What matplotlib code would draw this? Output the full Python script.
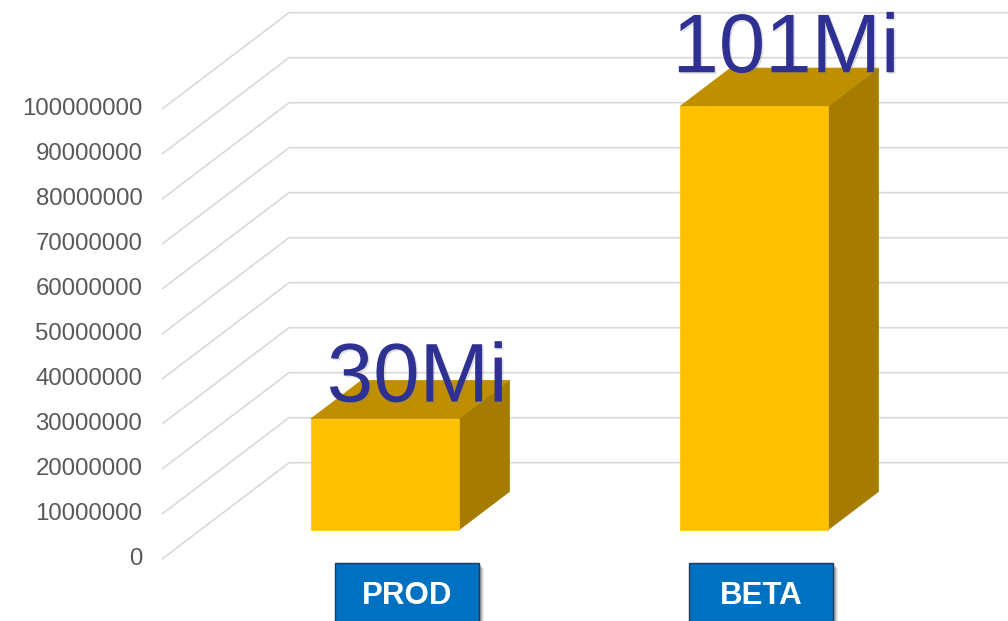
import numpy as np
import matplotlib
matplotlib.use("Agg")
import matplotlib.pyplot as plt
from matplotlib.patches import Polygon, Rectangle
import matplotlib.patheffects as pe

# chart data
categories = ["PROD", "BETA"]
values = [24.7e6, 94.1e6]
value_labels = ["30Mi", "101Mi"]
tick_values = list(range(0, 100_000_001, 10_000_000))

# layout (pixels of a 1008x621 canvas)
W, H = 1008, 621
PX_PER_CAT = 369.0
PX_PER_VAL = 45.0 / 10e6
CAT0_PX = 347.0        # category 0 at the front edge of the floor
ZERO_PX = 62.3         # value 0 at the front edge, from the bottom
DEPTH_PX = (126.5, 96.0)
BAR_W = 148 / PX_PER_CAT
BAR_DEPTH = (0.3, 0.7)
LABEL_LIFT = [-2, 15]  # hand-placed data labels
BOX_NUDGE = [22, 7]    # hand-placed category boxes

FRONT = "#FFC000"
TOP = "#BF8F00"
SIDE = "#A57C00"
GRID = "#D9D9D9"

plt.rcParams["font.family"] = ["Liberation Sans", "DejaVu Sans"]

fig = plt.figure(figsize=(W / 100, H / 100), dpi=100)
ax = fig.add_axes([0, 0, 1, 1])
ax.set_xlim(-CAT0_PX / PX_PER_CAT, (W - CAT0_PX) / PX_PER_CAT)
ax.set_ylim(-ZERO_PX / PX_PER_VAL, (H - ZERO_PX) / PX_PER_VAL)
ax.axis("off")

dx = DEPTH_PX[0] / PX_PER_CAT
dy = DEPTH_PX[1] / PX_PER_VAL


def proj(x, v, d):
    return (x + d * dx, v + d * dy)


# back wall / floor grid lines
x_left = -0.5
x_right = 2.5
for v in tick_values:
    pts = [proj(x_left, v, 0), proj(x_left, v, 1), proj(x_right, v, 1)]
    ax.plot(*zip(*pts), color=GRID, lw=1.2, zorder=1, solid_joinstyle="miter")
    ax.text(x_left - 20 / PX_PER_CAT, v, f"{v}", ha="right", va="center",
            fontsize=17.3, color="#595959")

# 3D bars
d0, d1 = BAR_DEPTH
for i, (cat, v) in enumerate(zip(categories, values)):
    x0, x1 = i - BAR_W / 2, i + BAR_W / 2
    front = [proj(x0, 0, d0), proj(x1, 0, d0), proj(x1, v, d0), proj(x0, v, d0)]
    top = [proj(x0, v, d0), proj(x1, v, d0), proj(x1, v, d1), proj(x0, v, d1)]
    side = [proj(x1, 0, d0), proj(x1, 0, d1), proj(x1, v, d1), proj(x1, v, d0)]
    for poly, col in ((side, SIDE), (top, TOP), (front, FRONT)):
        ax.add_patch(Polygon(poly, closed=True, facecolor=col, edgecolor=col,
                             lw=0.5, zorder=3))

    # data label
    cx, cy = proj(i, v, (d0 + d1) / 2)
    ax.annotate(value_labels[i], (cx, cy), xytext=(7, LABEL_LIFT[i]),
                textcoords="offset pixels", ha="center", va="baseline",
                fontsize=60, color="#2E3192", zorder=5,
                path_effects=[pe.withSimplePatchShadow(offset=(1.2, -1.2),
                                                       shadow_rgbFace="#888888",
                                                       alpha=0.25)])

    # category box
    bx = proj(i, 0, d0)[0] + BOX_NUDGE[i] / PX_PER_CAT
    bw = 144 / PX_PER_CAT
    btop = -4.3 / PX_PER_VAL
    bh = 120 / PX_PER_VAL
    for k, a in enumerate([0.08, 0.10, 0.12, 0.15]):
        off = (5 - k) / PX_PER_CAT
        offy = (5 - k) / PX_PER_VAL
        ax.add_patch(Rectangle((bx - bw / 2 + off, btop - bh - offy), bw, bh,
                               facecolor="#000000", alpha=a, lw=0, zorder=6))
    ax.add_patch(Rectangle((bx - bw / 2, btop - bh), bw, bh,
                           facecolor="#0070C0", edgecolor="#1F3A5F", lw=1.0, zorder=7))
    ax.annotate(cat, (bx, 0), xytext=(0, -37), textcoords="offset pixels",
                ha="center", va="center", fontsize=22.5, fontweight="bold",
                color="white", zorder=8)

fig.savefig("out.png", dpi=100)
